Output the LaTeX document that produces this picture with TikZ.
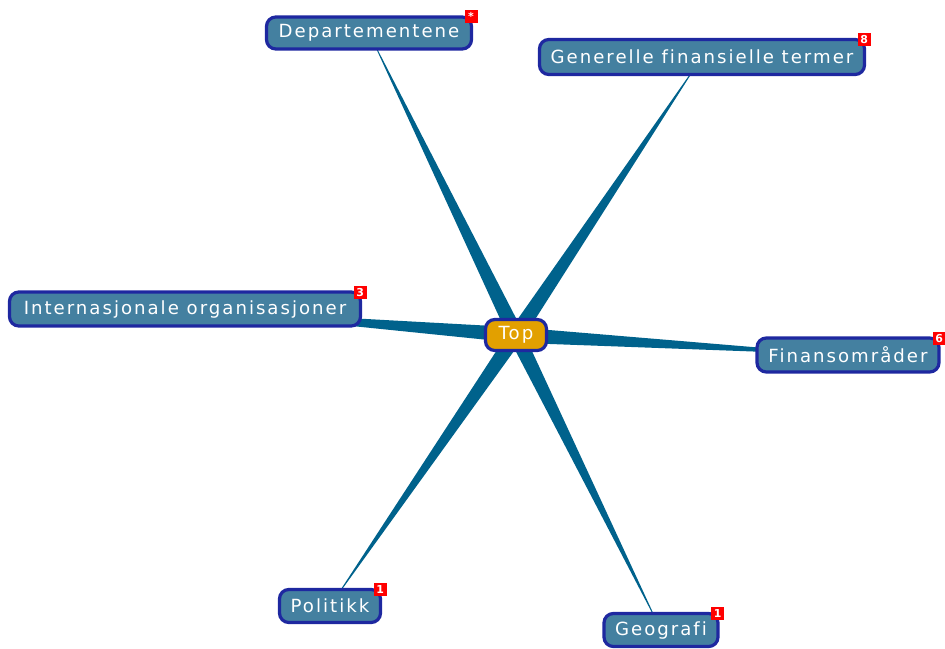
\documentclass[tikz,border=0pt]{standalone}
\usepackage{fontspec}
\newfontfamily\lbl{DejaVu Sans}[LetterSpace=11,Ligatures={NoCommon}]
\newfontfamily\bdg{DejaVu Sans}
\usetikzlibrary{backgrounds,calc}
\definecolor{nodec}{RGB}{68,128,160}
\definecolor{bordc}{RGB}{30,40,160}
\definecolor{edgec}{RGB}{0,98,140}
\definecolor{topc}{RGB}{226,160,0}
\begin{document}
\begin{tikzpicture}[x=0.75pt,y=-0.75pt,
  topic/.style={draw=bordc, line width=2.4pt, fill=nodec, rounded corners=7pt,
    text=white, font=\lbl\fontsize{13.6}{15}\selectfont, inner sep=0pt},
  rootnode/.style={topic, fill=topc},
  badge/.style={fill=red, text=white, font=\bdg\bfseries\fontsize{8.2}{8}\selectfont,
    minimum size=9.75pt, inner sep=0pt},
  wedge/.style={fill=edgec}
]
\useasboundingbox (0,0) rectangle (945,649);
\node[rootnode, minimum width=45.75pt, minimum height=23.25pt] (top) at (516,335) {Top};
\node[topic, minimum width=153.75pt, minimum height=24pt] (dep) at (369,33) {Departementene};
\node[topic, minimum width=243.75pt, minimum height=26.25pt] (gen) at (702,57) {Generelle finansielle termer};
\node[topic, minimum width=263.25pt, minimum height=25.5pt] (int) at (185,309) {Internasjonale organisasjoner};
\node[topic, minimum width=136.5pt, minimum height=25.5pt] (fin) at (848,355) {Finansområder};
\node[topic, minimum width=75.75pt, minimum height=24.75pt] (pol) at (330,606) {Politikk};
\node[topic, minimum width=85.5pt, minimum height=24.75pt] (geo) at (661,630) {Geografi};

\node[badge] (bdep) at ([xshift=-1.5pt,yshift=-1pt]dep.north east) {*};
\node[badge] (bgen) at ([xshift=-1.5pt,yshift=-1.5pt]gen.north east) {8};
\node[badge] (bint) at ([xshift=-1.5pt,yshift=-1.5pt]int.north east) {3};
\node[badge] (bfin) at ([xshift=-1pt,yshift=-1.5pt]fin.north east) {6};
\node[badge] (bpol) at ([xshift=-1.5pt,yshift=-1.5pt]pol.north east) {1};
\node[badge] (bgeo) at ([xshift=-1.5pt,yshift=-1.5pt]geo.north east) {1};

\begin{scope}[on background layer]
  \foreach \c in {dep,gen,int,fin,pol,geo}{
    \fill[wedge] ($(top.center)!5.8pt!90:(\c.center)$) -- (\c.center)
      -- ($(top.center)!5.8pt!-90:(\c.center)$) -- cycle;
  }
\end{scope}
\end{tikzpicture}
\end{document}
